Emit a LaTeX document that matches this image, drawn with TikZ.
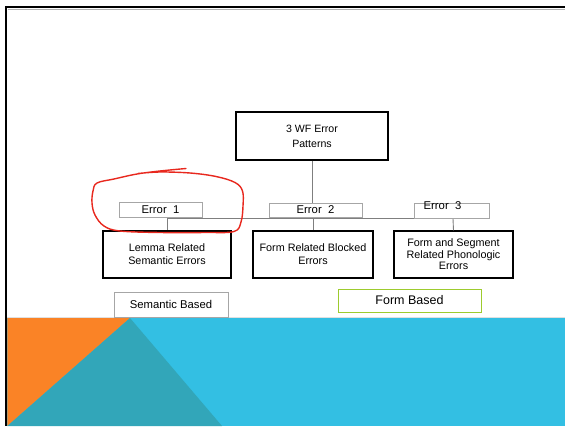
\documentclass[tikz,border=0pt]{standalone}
\usepackage{fontspec}
\setmainfont{Liberation Sans}
\definecolor{bandblue}{HTML}{33BFE3}
\definecolor{bandorange}{HTML}{FA8326}
\definecolor{bandteal}{HTML}{32A6B9}
\definecolor{linkgray}{HTML}{7F7F7F}
\definecolor{framegray}{HTML}{A6A6A6}
\definecolor{inkred}{HTML}{E8281E}
\definecolor{formgreen}{HTML}{9DCB2E}
\begin{document}
\begin{tikzpicture}[x=1pt,y=-1pt,
  topbox/.style={draw=black,line width=1.2pt,fill=white,align=center,inner sep=0pt,
    font=\fontsize{10.6}{15}\selectfont},
  leafbox/.style={draw=black,line width=1.2pt,fill=white,align=center,inner sep=0pt,
    minimum height=47pt,font=\fontsize{10.8}{13}\selectfont},
  tagbox/.style={draw=framegray,line width=0.8pt,fill=white,inner sep=0pt,
    minimum height=15pt,font=\fontsize{11.3}{12}\selectfont},
  link/.style={draw=linkgray,line width=0.9pt}]
\useasboundingbox (0,0) rectangle (565,426);
\fill[white] (0,0) rectangle (565,426);

% slide frame
\draw[black!30,line width=0.8pt] (8,9.5) -- (565,9.5);
\draw[black,line width=2pt] (5,7) -- (565,7);
\draw[black,line width=2.4pt] (6.2,6) -- (6.2,426);

% coloured band at the foot of the slide
\fill[bandblue] (7.4,318) rectangle (565,426);
\fill[bandorange] (7.4,318) -- (130,318) -- (7.4,426) -- cycle;
\fill[bandteal] (130,318) -- (222,426) -- (7.4,426) -- cycle;
\draw[black!12,line width=0.6pt] (7.4,317.3) -- (565,317.3);

% tree
\node[topbox,minimum width=152pt,minimum height=48pt] (top) at (312,136)
  {3 WF Error\\Patterns};
\node[leafbox,minimum width=128pt] (b1) at (167,254.5) {Lemma Related\\Semantic Errors};
\node[leafbox,minimum width=120pt] (b2) at (313,254.5) {Form Related Blocked\\Errors};
\node[leafbox,minimum width=119pt,font=\fontsize{10.8}{11.5}\selectfont] (b3) at (453.5,254.5)
  {Form and Segment\\Related Phonologic\\Errors};

\coordinate (j1) at (167,218.5);
\coordinate (j3) at (453,218.5);
\draw[link] (top.south) -- (top.south |- j1);
\draw[link] (j1) -- (j3);
\draw[link] (j1) -- (b1.north);
\draw[link] (b2.north |- j1) -- (b2.north);
\draw[link] (j3) -- (b3.north);

\node[tagbox,minimum width=83pt] (e1) at (160.5,209.5) {Error\ \ 1};
\node[tagbox,minimum width=93pt,minimum height=14pt] (e2) at (315.5,210) {Error\ \ 2};
\node[tagbox,minimum width=75pt] (e3) at (451.5,210.5) {};
\node[font=\fontsize{11.3}{12}\selectfont,inner sep=0pt] (e3t) at (442.5,205.5) {Error\ \ 3};

% grouping labels
\node[tagbox,minimum width=114pt,minimum height=25pt] (sem) at (171,304.5) {Semantic Based};
\node[tagbox,draw=formgreen,minimum width=143pt,minimum height=23pt,
  font=\fontsize{12.5}{13}\selectfont] (form) at (409.5,300.5) {Form Based};

% hand-drawn red loop
\draw[inkred,line width=1.4pt,line cap=round,line join=round]
  plot[smooth,tension=0.6] coordinates {
    (186,168.5) (160,171) (137,174) (114,179) (97,183) (93,191) (92,203)
    (95,215) (104,226) (120,231) (160,232.5) (205,232.5) (234,231.5)
    (241,222) (243,206) (242.5,191) (235,182.5) (216,176.5) (190,173)
    (160,172) (138,173.5)};
\end{tikzpicture}
\end{document}
